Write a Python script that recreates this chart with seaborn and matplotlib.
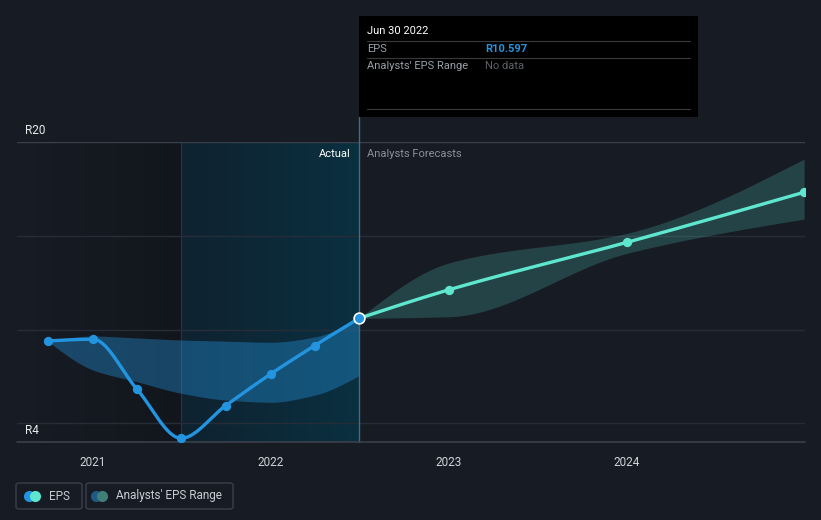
import numpy as np
import pandas as pd
import matplotlib
matplotlib.use("Agg")
import matplotlib.pyplot as plt
import seaborn as sns
from matplotlib.patches import Rectangle, FancyBboxPatch, Circle
from matplotlib.colors import LinearSegmentedColormap

# ---------------- data ----------------
past_x = [2020.745, 2021.0, 2021.245, 2021.495, 2021.745, 2022.0, 2022.245, 2022.495]
past_eps = [9.39, 9.48, 6.84, 4.2, 5.94, 7.64, 9.14, 10.597]
past_hi = [9.39, 9.65, 9.55, 9.44, 9.38, 9.32, 9.6, 10.597]
past_lo = [9.39, 7.84, 7.22, 6.6, 6.24, 6.12, 6.5, 7.54]

fc_x = [2022.495, 2023.0, 2024.0, 2024.995]
fc_eps = [10.597, 12.12, 14.65, 17.32]
fc_hi = [10.597, 13.55, 15.13, 19.09]
fc_lo = [10.597, 10.68, 14.06, 15.89]

year_ticks = [2021, 2022, 2023, 2024]
year_labels = ["2021", "2022", "2023", "2024"]
y_labels = {20: "R20", 4: "R4"}
grid_vals = [5, 10, 15, 20]

# ---------------- style ----------------
BG = "#161b24"
sns.set_style("dark", {"axes.facecolor": BG, "figure.facecolor": BG})
plt.rcParams["font.family"] = ["Roboto", "DejaVu Sans"]

W, H = 821, 520
fig = plt.figure(figsize=(W / 100, H / 100), dpi=100)
fig.patch.set_facecolor(BG)

def fx(px):
    return px / W

def fy(py):
    return 1 - py / H

ax = fig.add_axes([fx(17), fy(442), (805 - 17) / W, 300 / H])
ax.set_facecolor(BG)
XMIN, XMAX = 2020.573, 2025.0
ax.set_xlim(XMIN, XMAX)
ax.set_ylim(4, 20)
for s in ax.spines.values():
    s.set_visible(False)


def smooth(x, y, n=300):
    """monotone cubic (rendering of a smooth line through the points)"""
    x = np.asarray(x, float)
    y = np.asarray(y, float)
    h = np.diff(x)
    d = np.diff(y) / h
    m = np.zeros_like(y)
    for k in range(1, len(x) - 1):
        if d[k - 1] * d[k] <= 0:
            m[k] = 0
        else:
            w1 = 2 * h[k] + h[k - 1]
            w2 = h[k] + 2 * h[k - 1]
            m[k] = (w1 + w2) / (w1 / d[k - 1] + w2 / d[k])
    m[0] = (3 * d[0] - m[1]) / 2 if len(x) > 2 else d[0]
    m[-1] = (3 * d[-1] - m[-2]) / 2 if len(x) > 2 else d[-1]
    xs = np.linspace(x[0], x[-1], n)
    idx = np.clip(np.searchsorted(x, xs) - 1, 0, len(x) - 2)
    t = (xs - x[idx]) / h[idx]
    h00 = 2 * t**3 - 3 * t**2 + 1
    h10 = t**3 - 2 * t**2 + t
    h01 = -2 * t**3 + 3 * t**2
    h11 = t**3 - t**2
    ys = h00 * y[idx] + h10 * h[idx] * m[idx] + h01 * y[idx + 1] + h11 * h[idx] * m[idx + 1]
    return xs, ys


# background regions
cm_left = LinearSegmentedColormap.from_list("l", ["#171c25", "#12161c"])
ax.imshow(np.linspace(0, 1, 256).reshape(1, -1), cmap=cm_left, aspect="auto",
          extent=[XMIN, 2021.495, 4, 20], zorder=0)
cm_past = LinearSegmentedColormap.from_list("p", ["#0f2230", "#0a3040"])
ax.imshow(np.linspace(0, 1, 256).reshape(1, -1), cmap=cm_past, aspect="auto",
          extent=[2021.495, 2022.495, 4, 20], zorder=0)
ax.axvline(2021.495, color="#1d3a48", lw=0.8, zorder=1)

# grid
for g in grid_vals:
    ax.axhline(g, color="#3a404a" if g == 20 else "#272d37", lw=1, zorder=1)
ax.axhline(4, color="#3b414b", lw=1.2, zorder=5, clip_on=False)

# bands
xs, hi = smooth(past_x, past_hi)
_, lo = smooth(past_x, past_lo)
ax.fill_between(xs, lo, hi, color="#2394df", alpha=0.38, lw=0, zorder=2)
xs2, hi2 = smooth(fc_x, fc_hi)
_, lo2 = smooth(fc_x, fc_lo)
ax.fill_between(xs2, lo2, hi2, color="#5ee6cf", alpha=0.2, lw=0, zorder=2)

# lines
px, py = smooth(past_x, past_eps)
sns.lineplot(x=px, y=py, ax=ax, color="#2394df", lw=2.4, sort=False, zorder=4)
qx, qy = smooth(fc_x, fc_eps)
sns.lineplot(x=qx, y=qy, ax=ax, color="#5ee6cf", lw=2.4, sort=False, zorder=4)

sns.scatterplot(x=past_x[:-1], y=past_eps[:-1], ax=ax, color="#2394df", s=45,
                linewidth=0, zorder=6)
sns.scatterplot(x=fc_x[1:], y=fc_eps[1:], ax=ax, color="#5ee6cf", s=45,
                linewidth=0, zorder=6)
sns.scatterplot(x=[past_x[-1]], y=[past_eps[-1]], ax=ax, color="#2394df", s=60,
                edgecolor="white", linewidth=1.2, zorder=7)

# divider line
ax.plot([2022.495, 2022.495], [4, 20 + 25 / 18.75], color="#3f6f80", lw=1,
        clip_on=False, zorder=3)

# x ticks
ax.set_xticks(year_ticks)
ax.set_xticklabels(year_labels)
ax.tick_params(axis="x", colors="#3b414b", length=4, width=1, pad=6,
               labelcolor="#d0d4da", labelsize=8.5)
ax.set_yticks([])
ax.set_xlabel("")
ax.set_ylabel("")

# y labels
for v, lab in y_labels.items():
    ypx = 130 if v == 20 else 430
    fig.text(fx(25), fy(ypx), lab, color="#e8eaed", fontsize=8.5, va="center", ha="left")

fig.text(fx(351), fy(154), "Actual", color="#ffffff", fontsize=8, va="center", ha="right")
fig.text(fx(367), fy(154), "Analysts Forecasts", color="#8a8f98", fontsize=8,
         va="center", ha="left")

# tooltip
fig.add_artist(Rectangle((fx(359), fy(117)), (698 - 359) / W, (117 - 16) / H,
                         transform=fig.transFigure, facecolor="#000000", edgecolor="none",
                         zorder=10))
for ly in (41, 58, 109):
    fig.add_artist(plt.Line2D([fx(367), fx(690)], [fy(ly), fy(ly)], color="#3a3a3a",
                              lw=0.8, transform=fig.transFigure, zorder=11))
fig.text(fx(367), fy(31), "Jun 30 2022", color="#ffffff", fontsize=8, va="center",
         zorder=12)
fig.text(fx(367), fy(49), "EPS", color="#9aa0a8", fontsize=8, va="center", zorder=12)
fig.text(fx(485), fy(49), "R10.597", color="#2394df", fontsize=8, fontweight="bold",
         va="center", zorder=12)
fig.text(fx(367), fy(66), "Analysts' EPS Range", color="#9aa0a8", fontsize=8,
         va="center", zorder=12)
fig.text(fx(485), fy(66), "No data", color="#5d6168", fontsize=8, va="center",
         zorder=12)

# legend
def box(x0, x1):
    fig.add_artist(FancyBboxPatch((fx(x0), fy(509)), (x1 - x0) / W, 26 / H,
                                  boxstyle="round,pad=0,rounding_size=0.004",
                                  transform=fig.transFigure, facecolor="none",
                                  edgecolor="#3a404a", lw=1))

box(16, 82)
box(86, 233)
r = 4.5
for cx, col in ((29, "#2394df"), (35, "#5ee6cf"), (96, "#1f5a85"), (102, "#3f7f78")):
    fig.add_artist(plt.Line2D([fx(cx)], [fy(496)], marker="o", markersize=8,
                              markerfacecolor=col, markeredgewidth=0, ls="none",
                              transform=fig.transFigure))
fig.text(fx(49), fy(496), "EPS", color="#c8ccd2", fontsize=8.5, va="center")
fig.text(fx(116), fy(496), "Analysts' EPS Range", color="#c8ccd2", fontsize=8.5,
         va="center")

fig.savefig("out.png", dpi=100, facecolor=BG)
